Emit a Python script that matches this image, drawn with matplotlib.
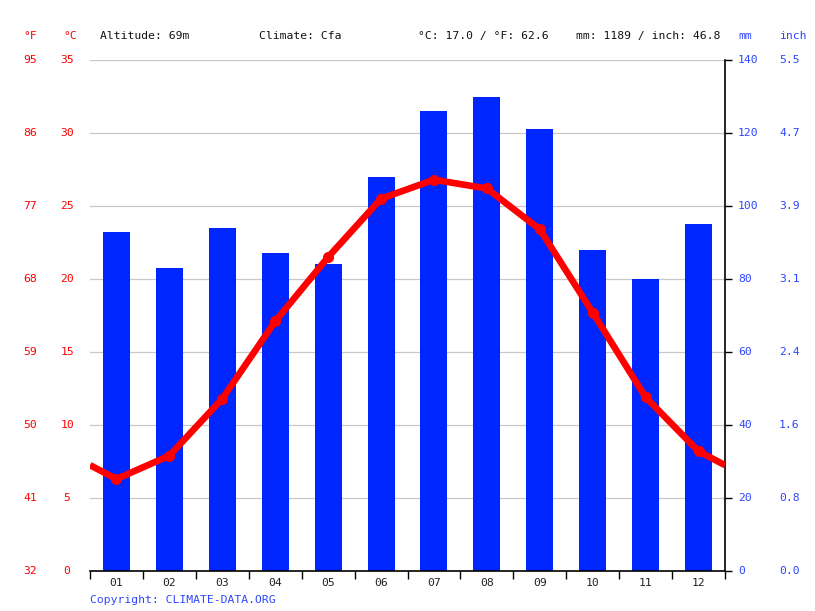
"""Climate chart: monthly precipitation bars and mean temperature line."""

import numpy as np
import matplotlib
matplotlib.use('Agg')
import matplotlib.pyplot as plt
from matplotlib import transforms

months = ['01', '02', '03', '04', '05', '06', '07', '08', '09', '10', '11', '12']
precip_mm = [93, 83, 94, 87, 84, 108, 126, 130, 121, 88, 80, 95]
temp_c = [6.3, 7.9, 11.8, 17.1, 21.5, 25.5, 26.8, 26.2, 23.4, 17.7, 11.9, 8.2]
celsius_ticks = [0, 5, 10, 15, 20, 25, 30, 35]
fahrenheit_labels = ['32', '41', '50', '59', '68', '77', '86', '95']
mm_ticks = [0, 20, 40, 60, 80, 100, 120, 140]
inch_labels = ['0.0', '0.8', '1.6', '2.4', '3.1', '3.9', '4.7', '5.5']

RED = '#ff0000'
BLUE = '#0026ff'
LBLUE = '#2e45ff'
FONT = 'DejaVu Sans Mono'
FS = 8.2


def main():
    W, H = 815, 611
    fig = plt.figure(figsize=(W / 100, H / 100), dpi=100)
    ax = fig.add_axes([90 / W, 40 / H, 635 / W, 511 / H])
    plt.rcParams['font.family'] = FONT

    x = np.arange(1, 13)
    scale = 35 / 140  # mm -> degC axis

    # grid and bars
    for t in celsius_ticks[1:]:
        ax.axhline(t, color='#c8c8c8', lw=0.9, zorder=0)
    ax.bar(x, np.array(precip_mm) * scale, width=0.51, color=BLUE, zorder=2)

    # temperature line, wrapped to half-month at both edges
    edge = (temp_c[0] + temp_c[-1]) / 2
    lx = np.concatenate([[0.5], x, [12.5]])
    ly = np.concatenate([[edge], temp_c, [edge]])
    ax.plot(lx, ly, color=RED, lw=4.8, zorder=3, solid_capstyle='butt')
    ax.plot(x, temp_c, 'o', color=RED, ms=7, zorder=4)

    ax.set_xlim(0.5, 12.5)
    ax.set_ylim(0, 35)
    for s in ('left', 'top'):
        ax.spines[s].set_visible(False)
    ax.spines['bottom'].set_linewidth(1.2)
    ax.spines['right'].set_linewidth(1.2)
    ax.set_yticks([])
    ax.set_xticks(np.arange(0.5, 13, 1))
    ax.set_xticklabels([])
    ax.tick_params(axis='x', length=6, width=1, direction='out')
    ax.set_xticks(x, minor=True)
    ax.set_xticklabels(months, minor=True, fontsize=FS, family=FONT,
                       color='#222222')
    ax.tick_params(axis='x', which='minor', length=0, pad=5)

    # right axis ticks
    ax2 = ax.twinx()
    ax2.set_ylim(0, 140)
    ax2.set_yticks(mm_ticks)
    ax2.set_yticklabels([])
    ax2.tick_params(axis='y', length=5, width=1, direction='out')
    for s in ('left', 'top', 'bottom', 'right'):
        ax2.spines[s].set_visible(False)

    # tick label columns
    tr = transforms.blended_transform_factory(fig.transFigure, ax.transData)
    for t, f in zip(celsius_ticks, fahrenheit_labels):
        fig.text(30 / W, t, f, transform=tr, ha='center', va='center',
                 color=RED, fontsize=FS, family=FONT)
        fig.text(67 / W, t, str(t), transform=tr, ha='center', va='center',
                 color=RED, fontsize=FS, family=FONT)
    for m, i in zip(mm_ticks, inch_labels):
        yy = m * scale
        fig.text(738 / W, yy, str(m), transform=tr, ha='left', va='center',
                 color=LBLUE, fontsize=FS, family=FONT)
        fig.text(779 / W, yy, i, transform=tr, ha='left', va='center',
                 color=LBLUE, fontsize=FS, family=FONT)

    # header
    hy = 1 - 36 / H
    fig.text(30 / W, hy, '°F', ha='center', va='center', color=RED,
             fontsize=FS, family=FONT)
    fig.text(70 / W, hy, '°C', ha='center', va='center', color=RED,
             fontsize=FS, family=FONT)
    fig.text(100 / W, hy, 'Altitude: 69m', va='center', color='#111111',
             fontsize=FS, family=FONT)
    fig.text(259 / W, hy, 'Climate: Cfa', va='center', color='#111111',
             fontsize=FS, family=FONT)
    mean_c = np.mean(temp_c)
    fig.text(418 / W, hy, f'°C: {mean_c:.1f} / °F: {mean_c * 9 / 5 + 32:.1f}',
             va='center', color='#111111', fontsize=FS, family=FONT)
    total = sum(precip_mm)
    fig.text(576 / W, hy, f'mm: {total} / inch: {total / 25.4:.1f}',
             va='center', color='#111111', fontsize=FS, family=FONT)
    fig.text(738 / W, hy, 'mm', va='center', color=LBLUE, fontsize=FS,
             family=FONT)
    fig.text(779 / W, hy, 'inch', va='center', color=LBLUE, fontsize=FS,
             family=FONT)

    fig.text(90 / W, 1 - 600 / H, 'Copyright: CLIMATE-DATA.ORG', va='center',
             color=LBLUE, fontsize=FS, family=FONT)

    fig.savefig('out.png', dpi=100)


if __name__ == '__main__':
    main()
